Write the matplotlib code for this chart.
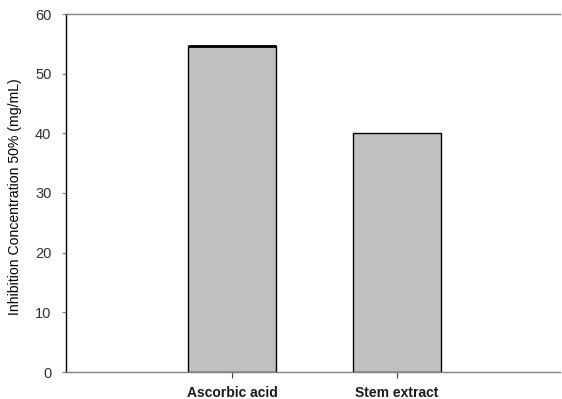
import matplotlib
matplotlib.use("Agg")
import matplotlib.pyplot as plt

categories = ["Ascorbic acid", "Stem extract"]
values = [54.7, 40.0]
yticks = [0, 10, 20, 30, 40, 50, 60]

plt.rcParams['font.family'] = ['Liberation Sans', 'DejaVu Sans']

fig = plt.figure(figsize=(5.62, 3.99), dpi=100)
ax = fig.add_axes([66/562, 1 - 372/399, 494/562, 358/399])

x = list(range(len(categories)))
ax.bar(x, values, width=0.535, color="#c0c0c0", edgecolor="black", linewidth=1.0, zorder=2)
# thicker top on first bar
ax.hlines(values[0], x[0] - 0.535/2, x[0] + 0.535/2, color="black", linewidth=2.0, zorder=3)

ax.set_xlim(-1.01, 1.99)
ax.set_ylim(0, 60)
ax.set_yticks(yticks)
ax.set_xticks(x)
ax.set_xticklabels(categories, fontweight="bold", fontsize=10, color="#1a1a1a")
ax.tick_params(axis="y", labelsize=10.5, labelcolor="#303030", direction="out", length=3, width=0.8, pad=7.5)
ax.tick_params(axis="x", direction="out", length=4, width=0.8, pad=6)
ax.set_ylabel("Inhibition Concentration 50% (mg/mL)", fontsize=10.1)
ax.yaxis.set_label_coords(-0.089, 0.489)

ax.spines["right"].set_visible(False)
ax.spines["top"].set_color("#808080")
ax.spines["bottom"].set_color("#808080")
ax.spines["left"].set_color("black")
for s in ax.spines.values():
    s.set_linewidth(1.0)
ax.tick_params(axis="y", color="#808080")
ax.tick_params(axis="x", color="#404040")

fig.savefig("out.png", dpi=100)
